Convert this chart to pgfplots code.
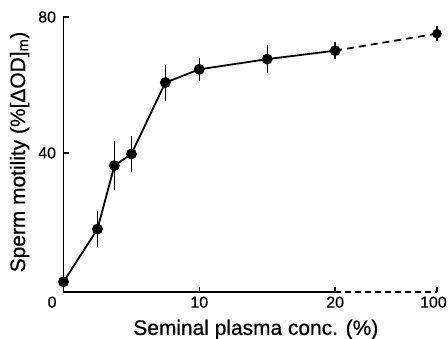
\documentclass[border=0pt]{standalone}
\usepackage{fontspec}
\setmainfont{Liberation Sans}[FakeBold=0.5]
\usepackage{pgfplots}
\pgfplotsset{compat=1.18}
\newcommand{\tlfont}{\fontsize{16}{19}\selectfont}
\begin{document}
\begin{tikzpicture}
\path[use as bounding box] (-63.5bp,-47bp) rectangle (384.5bp,292bp);
\begin{axis}[
  at={(0,0)}, anchor=south west,
  scale only axis, width=373.5bp, height=275bp,
  xmin=0, xmax=27.5, ymin=-0.9, ymax=80,
  clip=false,
  axis lines=left,
  axis line style={-, line width=1.6bp},
  x axis line style={draw=none},
  tick align=inside,
  major tick length=5bp,
  tick style={line width=1.4bp, black},
  xtick={0,10,20,27.5},
  xticklabels={\tlfont\makebox[0pt][r]{0\hspace{7bp}},\tlfont 10,\tlfont 20,\tlfont\makebox[0pt][r]{100\hspace{-9.7bp}}},
  ytick={40,80},
  yticklabels={\tlfont 40,\tlfont 80},
  every tick label/.append style={font=\tlfont},
  xticklabel style={yshift=-1bp},
  yticklabel style={xshift=-4bp},
  xlabel={Seminal plasma conc. (\%)},
  xlabel style={at={(axis description cs:0.515,-0.156)}, anchor=base, font=\fontsize{21}{25}\selectfont},
  ylabel={Sperm motility (\%[ΔOD]\textsubscript{m})},
  ylabel style={at={(axis description cs:-0.103,0.509)}, anchor=base, font=\fontsize{21}{25}\selectfont},
]
\draw[line width=1.6bp] (axis cs:0,-0.9) -- (axis cs:20,-0.9);
\draw[line width=1.6bp, dash pattern=on 6bp off 4bp] (axis cs:20,-0.9) -- (axis cs:27.5,-0.9);
\addplot[black, line width=1.8bp, mark=*, mark size=4.5bp,
  error bars/.cd, y dir=both, y explicit, error mark=none,
  error bar style={line width=1.4bp}]
  coordinates {
  (0,2.1) += (0,13.3) -= (0,3.0)
  (2.5,17.6) +- (0,5.2)
  (3.75,36.3) +- (0,7.1)
  (5,39.7) +- (0,5.2)
  (7.5,60.7) +- (0,5.3)
  (10,64.6) +- (0,3.3)
  (15,67.6) +- (0,4.2)
  (20,70.1) +- (0,2.4)
  };
\addplot[black, line width=1.8bp, dash pattern=on 7bp off 5bp, no marks]
  coordinates {(20,70.1) (27.5,75.1)};
\addplot[black, only marks, mark=*, mark size=4.5bp,
  error bars/.cd, y dir=both, y explicit, error mark=none,
  error bar style={line width=1.4bp}]
  coordinates {(27.5,75.1) +- (0,2.2)};
\end{axis}
\end{tikzpicture}
\end{document}
